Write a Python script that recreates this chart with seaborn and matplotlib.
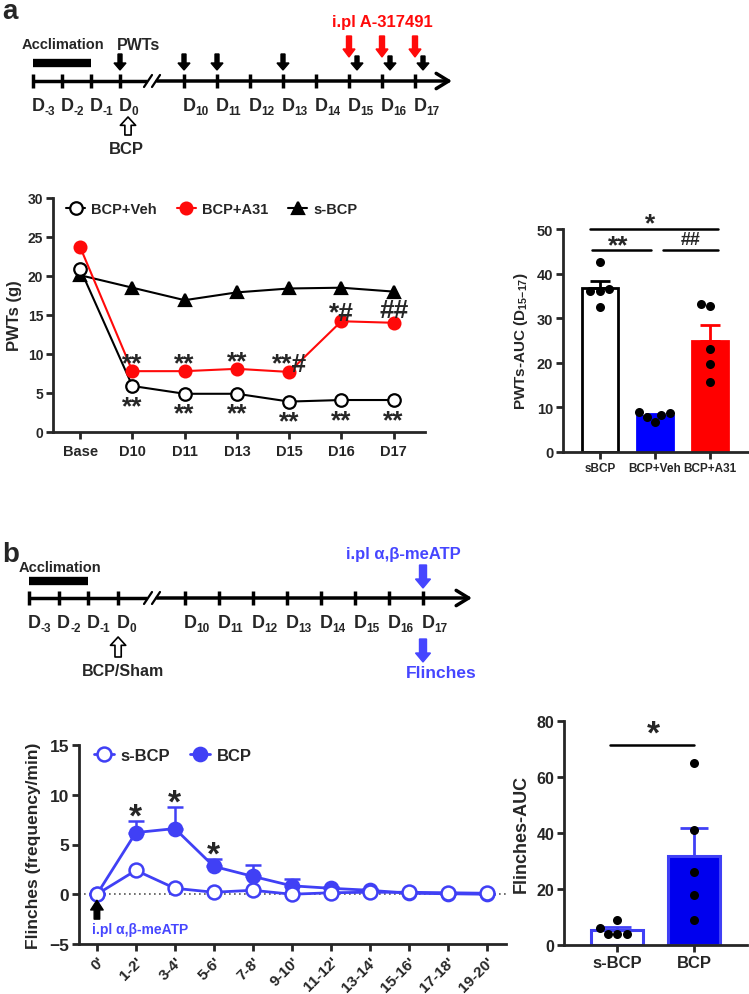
import numpy as np
import pandas as pd
import matplotlib
matplotlib.use("Agg")
import matplotlib.pyplot as plt
from matplotlib.lines import Line2D
import seaborn as sns

# ---- timeline schematics ----
pre_days = ["-3", "-2", "-1", "0"]
post_days = ["10", "11", "12", "13", "14", "15", "16", "17"]
pwt_test_days = ["0", "10", "11", "13", "15", "16", "17"]
a31_days = ["15", "16", "17"]
atp_day = "17"

# ---- panel a: PWTs time course ----
pwt_days = ["Base", "D10", "D11", "D13", "D15", "D16", "D17"]
pwt_veh = [20.9, 5.9, 4.9, 4.9, 3.9, 4.1, 4.1]
pwt_a31 = [23.7, 7.8, 7.8, 8.1, 7.7, 14.2, 14.0]
pwt_sbcp = [20.1, 18.5, 16.9, 17.9, 18.4, 18.5, 18.0]
sig_a31 = ["", "**", "**", "**", "**#", "*#", "##"]
sig_veh = ["", "**", "**", "**", "**", "**", "**"]

# ---- panel a: AUC D15-17 ----
auc_groups = ["sBCP", "BCP+Veh", "BCP+A31"]
auc_sbcp = [42.5, 36.5, 36.0, 36.2, 32.5]
auc_veh = [8.7, 6.8, 8.4, 9.0, 7.8]
auc_a31 = [33.2, 32.8, 23.0, 19.8, 15.7]

# ---- panel b: flinches time course ----
time_bins = ["0'", "1-2'", "3-4'", "5-6'", "7-8'", "9-10'", "11-12'",
             "13-14'", "15-16'", "17-18'", "19-20'"]
flinch_sbcp = [0.0, 2.4, 0.6, 0.2, 0.4, 0.0, 0.15, 0.2, 0.2, 0.15, 0.1]
flinch_bcp = [0.0, 6.2, 6.6, 2.8, 1.8, 0.85, 0.6, 0.4, 0.1, 0.05, 0.0]
flinch_bcp_sem = [0.0, 1.2, 2.2, 0.7, 1.1, 0.7, 0.15, 0.1, 0.05, 0.05, 0.05]
sig_bcp = ["", "*", "*", "*", "", "", "", "", "", "", ""]

# ---- panel b: flinches AUC ----
fl_groups = ["s-BCP", "BCP"]
fl_auc_sbcp = [9, 6, 4, 4, 4]
fl_auc_bcp = [65, 41, 26, 18, 9]

RED = "#ff0a0a"
LBLUE = "#4040f5"
TBLUE = "#4646ff"

sns.set_style("ticks")
plt.rcParams["font.family"] = ["Liberation Sans", "DejaVu Sans"]
plt.rcParams["font.weight"] = "bold"
plt.rcParams["axes.labelweight"] = "bold"
plt.rcParams["mathtext.fontset"] = "custom"
plt.rcParams["mathtext.rm"] = "Liberation Sans:bold"
plt.rcParams["mathtext.it"] = "Liberation Sans:bold"
plt.rcParams["mathtext.bf"] = "Liberation Sans:bold"

W, H = 749, 995
fig = plt.figure(figsize=(W / 100, H / 100), dpi=100)


def px_axes(left, top, right, bottom):
    return fig.add_axes([left / W, 1 - bottom / H, (right - left) / W, (bottom - top) / H])


def style_axes(ax, size):
    sns.despine(ax=ax)
    for s in ("left", "bottom"):
        ax.spines[s].set_linewidth(2)
    ax.tick_params(width=2, length=5, labelsize=size, pad=2)


# overlay in pixel units for the schematics
ov = fig.add_axes([0, 0, 1, 1], zorder=-5)
ov.set_xlim(0, W)
ov.set_ylim(H, 0)
ov.axis("off")


def day_pos(x_pre, step_pre, x_post, step_post):
    pos = {d: x_pre + i * step_pre for i, d in enumerate(pre_days)}
    pos.update({d: x_post + i * step_post for i, d in enumerate(post_days)})
    return pos


def timeline(pos, y, x_end, x_brk, acc_y, acc_text_y):
    x0 = pos[pre_days[0]]
    ov.plot([x0, x_brk - 5], [y, y], color="k", lw=2.5, solid_capstyle="butt")
    ov.annotate("", xy=(x_end, y), xytext=(x_brk + 5, y),
                arrowprops=dict(arrowstyle="->,head_length=0.9,head_width=0.55",
                                lw=2.5, color="k", shrinkA=0, shrinkB=0))
    for dx in (-4, 4):
        ov.plot([x_brk + dx - 4, x_brk + dx + 4], [y + 6, y - 6], color="k", lw=1.6)
    for d, x in pos.items():
        ov.plot([x, x], [y - 7, y + 7], color="k", lw=2.5, solid_capstyle="butt")
        ov.text(x - 1.5, y + 29, "D", fontsize=13, ha="left", va="baseline")
        ov.text(x + 11.5, y + 33, d, fontsize=8.5, ha="left", va="baseline")
    ov.plot([pos["-3"], pos["-1"]], [acc_y, acc_y], color="k", lw=6, solid_capstyle="butt")
    ov.text((pos["-3"] + pos["-1"]) / 2 + 1, acc_text_y, "Acclimation",
            fontsize=10.5, ha="center", va="center")


def down_arrow(x, y0, y1, w, hw, hl, fc, ec=None):
    ov.arrow(x, y0, 0, y1 - y0, width=w, head_width=hw, head_length=hl,
             length_includes_head=True, fc=fc, ec=ec or fc, lw=1)


# ---------- timeline a ----------
pos_a = day_pos(33, 29, 184, 33)
timeline(pos_a, 82, 452, 152, 64, 45)
for d in pwt_test_days:
    off = 8 if d in a31_days else 0
    down_arrow(pos_a[d] + off, 55 if not off else 57, 71, 4, 12, 7, "k")
for d in a31_days:
    down_arrow(pos_a[d], 37, 58, 5, 12, 8, RED)
ov.text(pos_a["0"] + 18, 45, "PWTs", fontsize=11.5, ha="center", va="center")
ov.text(pos_a["16"], 22, "i.pl A-317491", fontsize=12, color=RED,
        ha="center", va="center")
ov.annotate("", xy=(pos_a["0"] + 8, 118), xytext=(pos_a["0"] + 8, 136),
            arrowprops=dict(arrowstyle="simple,head_width=1.1,head_length=0.6,tail_width=0.45",
                            fc="white", ec="k", lw=1.2, shrinkA=0, shrinkB=0))
ov.text(pos_a["0"] + 6, 149, "BCP", fontsize=12, ha="center", va="center")
ov.text(2, 12, "a", fontsize=20, ha="left", va="center")

# ---------- timeline b ----------
pos_b = day_pos(29, 29.7, 185, 34)
timeline(pos_b, 599, 472, 152, 582, 568)
down_arrow(pos_b[atp_day], 566, 589, 7, 15, 9, TBLUE)
down_arrow(pos_b[atp_day], 640, 663, 7, 15, 9, TBLUE)
ov.text(pos_b[atp_day] - 20, 555, "i.pl α,β-meATP", fontsize=12,
        color=TBLUE, ha="center", va="center")
ov.text(pos_b[atp_day] + 18, 673, "Flinches", fontsize=12.5,
        color=TBLUE, ha="center", va="center")
ov.annotate("", xy=(pos_b["0"], 638), xytext=(pos_b["0"], 658),
            arrowprops=dict(arrowstyle="simple,head_width=1.1,head_length=0.6,tail_width=0.45",
                            fc="white", ec="k", lw=1.2, shrinkA=0, shrinkB=0))
ov.text(pos_b["0"] + 5, 672, "BCP/Sham", fontsize=11.5, ha="center", va="center")
ov.text(2, 555, "b", fontsize=20, ha="left", va="center")

# ---------- line chart a ----------
ax1 = px_axes(53, 199, 425, 433)
df_pwt = pd.DataFrame({
    "day": pwt_days * 3,
    "pwt": pwt_sbcp + pwt_veh + pwt_a31,
    "group": ["s-BCP"] * 7 + ["BCP+Veh"] * 7 + ["BCP+A31"] * 7,
})
line_styles = {
    "s-BCP": dict(color="k", marker="^", mfc="k", mec="k", markersize=8.5),
    "BCP+Veh": dict(color="k", marker="o", mfc="white", mec="k", markersize=9),
    "BCP+A31": dict(color=RED, marker="o", mfc=RED, mec=RED, markersize=8.5),
}
for g in ["s-BCP", "BCP+Veh", "BCP+A31"]:
    sns.lineplot(data=df_pwt[df_pwt["group"] == g], x="day", y="pwt", ax=ax1, sort=False,
                 errorbar=None, lw=1.5, mew=1.6, **line_styles[g])
for i, (s1, s2) in enumerate(zip(sig_a31, sig_veh)):
    if s1:
        ax1.annotate(s1, xy=(pwt_days[i], pwt_a31[i]), xytext=(0, 8 if "*" in s1 else 13),
                     textcoords="offset pixels", ha="center", va="center", fontsize=19)
    if s2:
        ax1.annotate(s2, xy=(pwt_days[i], pwt_veh[i]), xytext=(0, -20),
                     textcoords="offset pixels", ha="center", va="center", fontsize=19)
ax1.set_xlim(-0.52, 6.6)
ax1.set_ylim(0, 30)
ax1.set_yticks(range(0, 31, 5))
ax1.set_xlabel("")
ax1.set_ylabel("PWTs (g)", fontsize=12, labelpad=4)
style_axes(ax1, 10)
ax1.tick_params(axis="x", labelsize=10.5, pad=4)
leg_handles = [Line2D([], [], lw=1.5, mew=1.6, **line_styles[g]) for g in ["BCP+Veh", "BCP+A31", "s-BCP"]]
ax1.legend(leg_handles, ["BCP+Veh", "BCP+A31", "s-BCP"], ncol=3, frameon=False,
           loc="upper left", bbox_to_anchor=(0.0, 1.04), fontsize=10.5, handlelength=1.3,
           handletextpad=0.4, columnspacing=1.4)

# ---------- bar chart a ----------
ax2 = px_axes(563, 230, 748, 453)
df_auc = pd.DataFrame({"group": np.repeat(auc_groups, 5), "auc": auc_sbcp + auc_veh + auc_a31})
auc_fill = ["white", "#0000ff", "#ff0000"]
auc_edge = ["black", "#0000ff", "#ff0000"]
sns.barplot(data=df_auc, x="group", y="auc", hue="group", palette=auc_fill, errorbar=None,
            saturation=1, width=0.64, linewidth=2, edgecolor="k", legend=False, ax=ax2)
for patch, ec in zip(ax2.patches, auc_edge):
    patch.set_edgecolor(ec)
stats = df_auc.groupby("group", sort=False)["auc"].agg(["mean", "sem"])
for i, g in enumerate(auc_groups):
    ax2.errorbar([g], [stats.loc[g, "mean"]], yerr=[[0], [stats.loc[g, "sem"]]], fmt="none",
                 ecolor=auc_edge[i], elinewidth=2, capsize=7, capthick=2, zorder=3)
sns.swarmplot(data=df_auc, x="group", y="auc", color="k", size=6.5, ax=ax2, zorder=4)
ax2.plot([-0.18, 2.15], [50.1, 50.1], color="k", lw=1.8, clip_on=False)
ax2.plot([-0.15, 0.93], [45.2, 45.2], color="k", lw=1.8, clip_on=False)
ax2.plot([1.15, 2.15], [45.2, 45.2], color="k", lw=1.8, clip_on=False)
ax2.text(0.91, 51.2, "*", ha="center", va="center", fontsize=19, clip_on=False)
ax2.text(0.33, 46.3, "**", ha="center", va="center", fontsize=19)
ax2.text(1.64, 47.6, "##", ha="center", va="center", fontsize=13)
ax2.set_xlim(-0.67, 2.69)
ax2.set_ylim(0, 50)
ax2.set_yticks(range(0, 51, 10))
ax2.set_xlabel("")
ax2.set_ylabel("PWTs-AUC (D$_{15{-}17}$)", fontsize=11, labelpad=5)
style_axes(ax2, 10.5)
ax2.tick_params(axis="x", labelsize=8.5)

# ---------- line chart b ----------
ax3 = px_axes(79, 746, 506, 945)
df_fl = pd.DataFrame({
    "bin": time_bins * 2,
    "flinch": flinch_bcp + flinch_sbcp,
    "group": ["BCP"] * 11 + ["s-BCP"] * 11,
})
ax3.axhline(0, color="#555555", lw=1.2, ls=(0, (1, 2)), zorder=0)
ax3.errorbar(time_bins, flinch_bcp, yerr=[np.zeros(11), flinch_bcp_sem], fmt="none",
             ecolor=LBLUE, elinewidth=1.8, capsize=6, capthick=1.8, zorder=2)
fl_styles = {
    "BCP": dict(color=LBLUE, marker="o", mfc=LBLUE, mec=LBLUE, markersize=9.5),
    "s-BCP": dict(color=LBLUE, marker="o", mfc="white", mec=LBLUE, markersize=10),
}
for g in ["BCP", "s-BCP"]:
    sns.lineplot(data=df_fl[df_fl["group"] == g], x="bin", y="flinch", ax=ax3, sort=False,
                 errorbar=None, lw=2, mew=1.8, zorder=3, **fl_styles[g])
for i, s in enumerate(sig_bcp):
    if s:
        ax3.annotate(s, xy=(time_bins[i], flinch_bcp[i] + flinch_bcp_sem[i]), xytext=(0, 4),
                     textcoords="offset pixels", ha="center", va="center", fontsize=24)
ax3.annotate("", xy=(time_bins[0], -0.6), xytext=(time_bins[0], -2.5),
             arrowprops=dict(arrowstyle="simple,head_width=0.9,head_length=0.7,tail_width=0.4",
                             color="k", shrinkA=0, shrinkB=0))
ax3.text(-0.13, -3.45, "i.pl α,β-meATP", color=TBLUE, fontsize=10, ha="left", va="center")
ax3.set_xlim(-0.46, 10.5)
ax3.set_ylim(-5, 15)
ax3.set_yticks(range(-5, 16, 5))
ax3.set_xlabel("")
ax3.set_ylabel("Flinches (frequency/min)", fontsize=12.5, labelpad=6)
style_axes(ax3, 12.5)
ax3.tick_params(axis="x", labelsize=11)
for lab in ax3.get_xticklabels():
    lab.set_rotation(45)
    lab.set_ha("right")
    lab.set_rotation_mode("anchor")
fl_handles = [Line2D([], [], lw=2, mew=1.8, **fl_styles[g]) for g in ["s-BCP", "BCP"]]
ax3.legend(fl_handles, ["s-BCP", "BCP"], ncol=2, frameon=False, loc="upper left",
           bbox_to_anchor=(0.0, 1.06), fontsize=12, handlelength=1.2, handletextpad=0.4,
           columnspacing=1.2)

# ---------- bar chart b ----------
ax4 = px_axes(564, 722, 747, 946)
df_fa = pd.DataFrame({"group": np.repeat(fl_groups, 5), "auc": fl_auc_sbcp + fl_auc_bcp})
sns.barplot(data=df_fa, x="group", y="auc", hue="group", palette=["white", "#0000ee"],
            saturation=1, errorbar=None, width=0.675, linewidth=2.2, edgecolor=LBLUE,
            legend=False, ax=ax4)
fstats = df_fa.groupby("group", sort=False)["auc"].agg(["mean", "sem"])
ax4.errorbar(fl_groups, fstats["mean"], yerr=[np.zeros(2), fstats["sem"]], fmt="none",
             ecolor=LBLUE, elinewidth=2, capsize=10, capthick=2, zorder=3)
sns.swarmplot(data=df_fa, x="group", y="auc", color="k", size=6.5, ax=ax4, zorder=4)
ax4.plot([-0.09, 1.0], [71.6, 71.6], color="k", lw=1.8)
ax4.text(0.47, 75.5, "*", ha="center", va="center", fontsize=24)
ax4.set_xlim(-0.69, 1.69)
ax4.set_ylim(0, 80)
ax4.set_yticks(range(0, 81, 20))
ax4.set_xlabel("")
ax4.set_ylabel("Flinches-AUC", fontsize=13, labelpad=5)
style_axes(ax4, 11.5)
ax4.tick_params(axis="x", labelsize=12)

fig.savefig("out.png", dpi=100)
